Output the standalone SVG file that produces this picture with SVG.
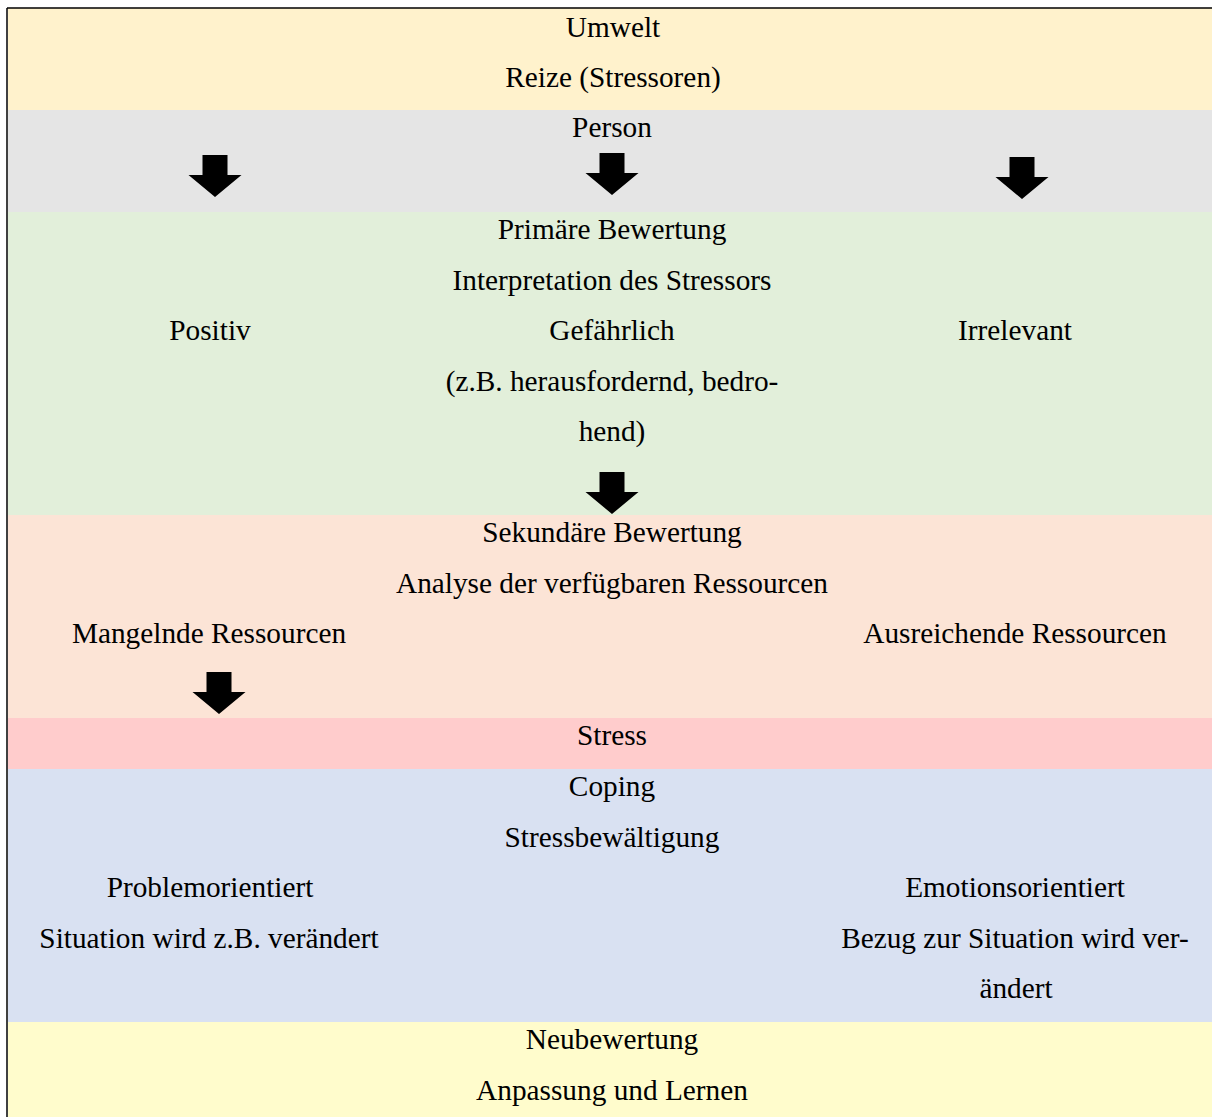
<svg xmlns="http://www.w3.org/2000/svg" width="1212" height="1117" viewBox="0 0 1212 1117">
<defs>
<style>
text{font-family:"Liberation Serif","Times New Roman",serif;font-size:29.3px;fill:#000;text-anchor:middle}
.band{stroke:none}
</style>
<path id="arr" d="M-12.5,0 H12.5 V20 H26.5 L0,42 L-26.5,20 H-12.5 Z" fill="#000"/>
</defs>
<rect x="0" y="0" width="1212" height="1117" fill="#fff"/>
<g id="umwelt">
<rect class="band" x="8" y="8" width="1204" height="102" fill="#FFF2CC"/>
<text x="613" y="37">Umwelt</text>
<text x="613" y="87">Reize (Stressoren)</text>
</g>
<g id="person">
<rect class="band" x="8" y="110" width="1204" height="102" fill="#E5E5E5"/>
<text x="612" y="137">Person</text>
</g>
<g id="primaere-bewertung">
<rect class="band" x="8" y="212" width="1204" height="303" fill="#E2EFDA"/>
<text x="612" y="239">Primäre Bewertung</text>
<text x="612" y="290">Interpretation des Stressors</text>
<text x="210" y="340">Positiv</text>
<text x="612" y="340">Gefährlich</text>
<text x="1015" y="340">Irrelevant</text>
<text x="612" y="391">(z.B. herausfordernd, bedro-</text>
<text x="612" y="441">hend)</text>
</g>
<g id="sekundaere-bewertung">
<rect class="band" x="8" y="515" width="1204" height="203" fill="#FCE4D6"/>
<text x="612" y="542">Sekundäre Bewertung</text>
<text x="612" y="593">Analyse der verfügbaren Ressourcen</text>
<text x="209" y="643">Mangelnde Ressourcen</text>
<text x="1015" y="643">Ausreichende Ressourcen</text>
</g>
<g id="stress">
<rect class="band" x="8" y="718" width="1204" height="51" fill="#FFCCCC"/>
<text x="612" y="745">Stress</text>
</g>
<g id="coping">
<rect class="band" x="8" y="769" width="1204" height="253" fill="#D9E1F2"/>
<text x="612" y="796">Coping</text>
<text x="612" y="847">Stressbewältigung</text>
<text x="210" y="897">Problemorientiert</text>
<text x="209" y="948">Situation wird z.B. verändert</text>
<text x="1015" y="897">Emotionsorientiert</text>
<text x="1015" y="948">Bezug zur Situation wird ver-</text>
<text x="1016" y="998">ändert</text>
</g>
<g id="neubewertung">
<rect class="band" x="8" y="1022" width="1204" height="95" fill="#FFFCCC"/>
<text x="612" y="1049">Neubewertung</text>
<text x="612" y="1100">Anpassung und Lernen</text>
</g>
<g id="connectors">
<use href="#arr" x="215" y="155"/>
<use href="#arr" x="612" y="153"/>
<use href="#arr" x="1022" y="157"/>
<use href="#arr" x="612" y="472"/>
<use href="#arr" x="219" y="672"/>
</g>
<g id="frame" stroke="#000" stroke-width="1.5" fill="none">
<line x1="7" y1="8" x2="1212" y2="8"/>
<line x1="7" y1="8" x2="7" y2="1117"/>
</g>
</svg>
